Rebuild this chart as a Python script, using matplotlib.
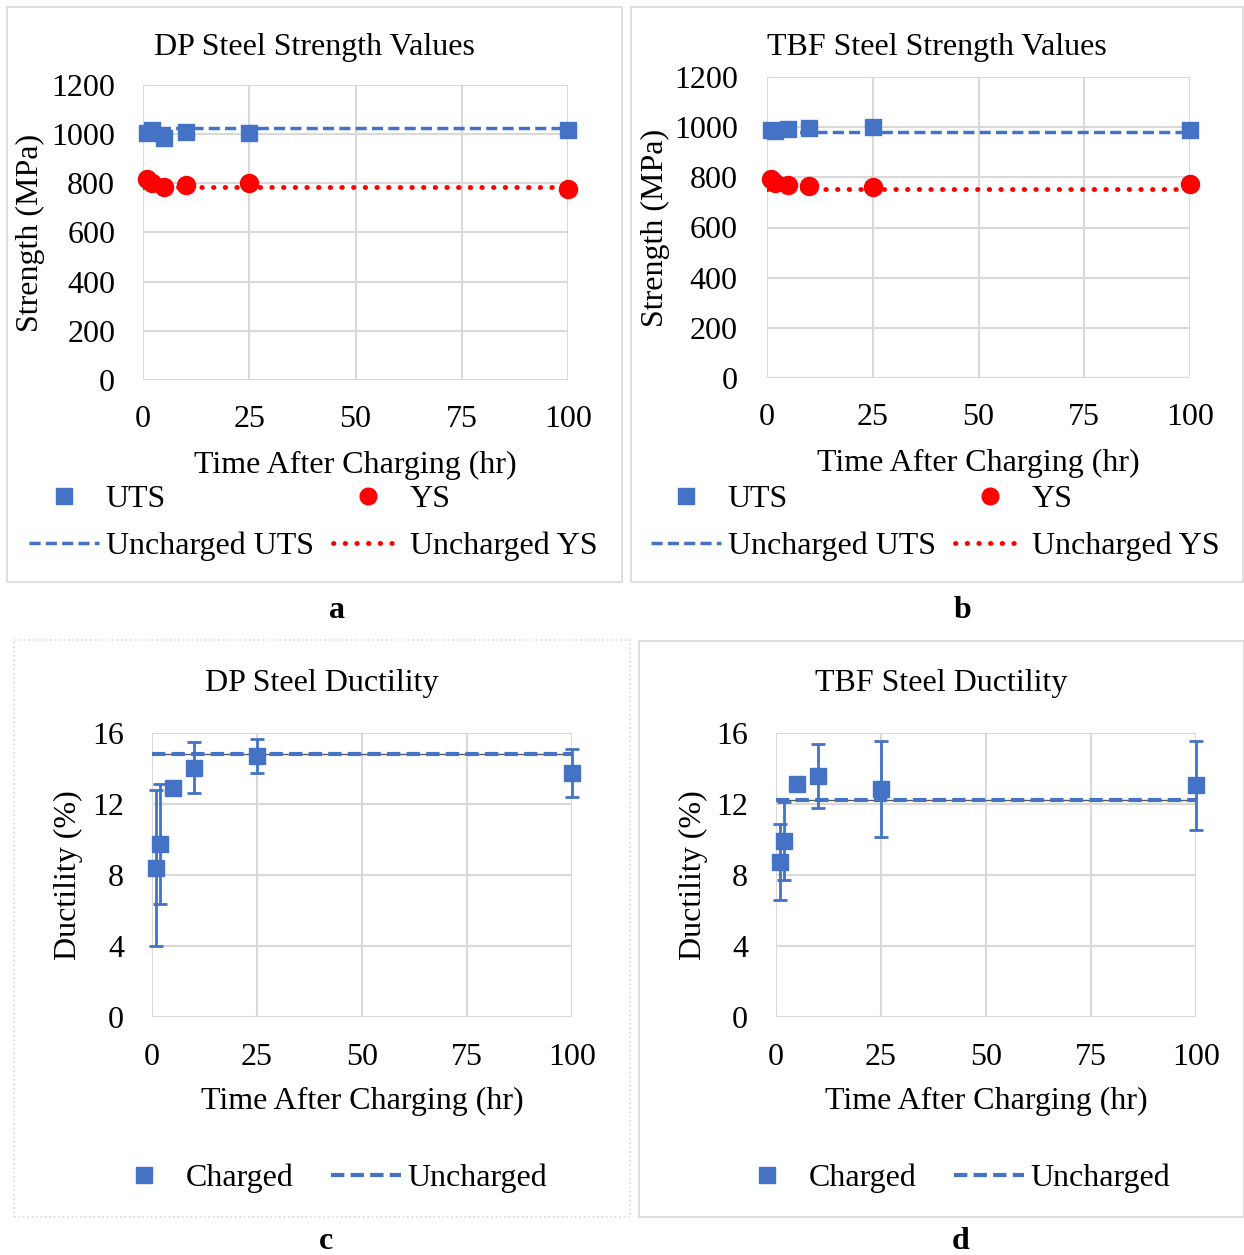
import numpy as np
import matplotlib
matplotlib.use("Agg")
import matplotlib.pyplot as plt
from matplotlib.lines import Line2D
from matplotlib.patches import Rectangle

plt.rcParams['font.family'] = ['Liberation Serif', 'DejaVu Serif']

# data
hours = [1, 2, 5, 10, 25, 100]
line_x = [0, 100]

dp_uts = [1005, 1015, 985, 1010, 1005, 1015]
dp_ys = [818, 803, 784, 793, 803, 776]
dp_uts_unch = 1025
dp_ys_unch = 787

tbf_uts = [990, 983, 992, 996, 999, 990]
tbf_ys = [793, 777, 770, 766, 763, 774]
tbf_uts_unch = 980
tbf_ys_unch = 754

dp_duct = [8.4, 9.75, 12.9, 14.05, 14.7, 13.75]
dp_duct_err = [4.4, 3.4, 0.15, 1.45, 0.95, 1.37]
dp_duct_unch = 14.8

tbf_duct = [8.75, 9.9, 13.1, 13.6, 12.85, 13.05]
tbf_duct_err = [2.15, 2.2, 0.15, 1.8, 2.7, 2.5]
tbf_duct_unch = 12.2

x_ticks = [0, 25, 50, 75, 100]
strength_ticks = [0, 200, 400, 600, 800, 1000, 1200]
duct_ticks = [0, 4, 8, 12, 16]

BLUE = '#4472C4'
RED = '#FF0000'
GRID = '#d9d9d9'
FS = 23
DASH = (0, (3.2, 1.5))
DOT = (0, (0.1, 2.3))

W, H = 1244, 1255
fig = plt.figure(figsize=(W / 100, H / 100), dpi=100)


def px_axes(x0, y0, x1, y1):
    return fig.add_axes([x0 / W, 1 - y1 / H, (x1 - x0) / W, (y1 - y0) / H])


def panel_box(x0, y0, x1, y1, ls='-'):
    fig.add_artist(Rectangle((x0 / W, 1 - y1 / H), (x1 - x0) / W, (y1 - y0) / H,
                             transform=fig.transFigure, fill=False,
                             edgecolor=GRID, lw=1.2, ls=ls))


def style_axes(ax, yticks, ypad, xpad):
    ax.set_xlim(0, 100)
    ax.set_ylim(yticks[0], yticks[-1])
    ax.set_xticks(x_ticks)
    ax.set_yticks(yticks)
    ax.grid(True, color=GRID, lw=1.5)
    ax.set_axisbelow(True)
    for s in ax.spines.values():
        s.set_visible(False)
    ax.tick_params(length=0, labelsize=FS)
    ax.tick_params(axis='y', pad=ypad)
    ax.tick_params(axis='x', pad=xpad)


def labels(ax, box, title, xlab, ylab, title_y, xlab_y, ylab_x):
    # positions given in figure pixels
    x0, y0, x1, y1 = box
    fig.text((x0 + x1) / 2 / W, 1 - title_y / H, title, ha='center', va='center', fontsize=FS)
    ax.set_xlabel(xlab, fontsize=FS, va='center')
    ax.set_ylabel(ylab, fontsize=FS, va='center')
    bb = ax.get_position()
    ax_top = (1 - bb.y1) * H
    ax_h = bb.height * H
    ax_left = bb.x0 * W
    ax_w = bb.width * W
    ax.xaxis.set_label_coords(0.5, (ax_top + ax_h - xlab_y) / ax_h)
    ax.yaxis.set_label_coords((ylab_x - ax_left) / ax_w, 0.5)


# ---- a: DP strength
box_a = (7, 7, 622, 582)
panel_box(*box_a)
ax = px_axes(143, 85, 568, 380)
style_axes(ax, strength_ticks, 20, 18)
ax.plot(line_x, [dp_uts_unch] * 2, color=BLUE, lw=2.5, ls=DASH)
ax.plot(line_x, [dp_ys_unch] * 2, color=RED, lw=3.5, ls=DOT, dash_capstyle='round')
ax.plot(hours, dp_uts, ls='none', marker='s', ms=12, color=BLUE, clip_on=False)
ax.plot(hours, dp_ys, ls='none', marker='o', ms=13, color=RED, clip_on=False)
labels(ax, box_a, 'DP Steel Strength Values', 'Time After Charging (hr)', 'Strength (MPa)', 48, 465, 30)

# ---- b: TBF strength
box_b = (631, 7, 1243, 582)
panel_box(*box_b)
ax = px_axes(767, 77, 1190, 378)
style_axes(ax, strength_ticks, 21, 18)
ax.plot(line_x, [tbf_uts_unch] * 2, color=BLUE, lw=2.5, ls=DASH)
ax.plot(line_x, [tbf_ys_unch] * 2, color=RED, lw=3.5, ls=DOT, dash_capstyle='round')
ax.plot(hours, tbf_uts, ls='none', marker='s', ms=12, color=BLUE, clip_on=False)
ax.plot(hours, tbf_ys, ls='none', marker='o', ms=13, color=RED, clip_on=False)
labels(ax, box_b, 'TBF Steel Strength Values', 'Time After Charging (hr)', 'Strength (MPa)', 48, 463, 655)

strength_handles = [
    Line2D([], [], ls='none', marker='s', ms=11, color=BLUE),
    Line2D([], [], color=BLUE, lw=2.5, ls=DASH),
    Line2D([], [], ls='none', marker='o', ms=12, color=RED),
    Line2D([], [], color=RED, lw=3.5, ls=DOT, dash_capstyle='round'),
]
strength_labels = ['UTS', 'Uncharged UTS', 'YS', 'Uncharged YS']
for cx in (313, 935):
    fig.legend(strength_handles, strength_labels, ncol=2, loc='center',
               bbox_to_anchor=(cx / W, 1 - 523 / H), frameon=False, fontsize=FS,
               handlelength=2.19, handletextpad=0.22, columnspacing=0.6,
               labelspacing=0.55, borderpad=0)

# ---- c: DP ductility
box_c = (14, 640, 630, 1217)
panel_box(*box_c, ls=':')
ax = px_axes(152, 733, 572, 1017)
style_axes(ax, duct_ticks, 20, 19)
ax.plot(line_x, [dp_duct_unch] * 2, color='#595959', lw=1.0)
ax.plot(line_x, [dp_duct_unch] * 2, color=BLUE, lw=3.0, ls=DASH)
ax.errorbar(hours, dp_duct, yerr=dp_duct_err, ls='none', marker='s', ms=11,
            color=BLUE, ecolor=BLUE, elinewidth=2, capsize=5, capthick=2, clip_on=False)
labels(ax, box_c, 'DP Steel Ductility', 'Time After Charging (hr)', 'Ductility (%)', 683, 1101, 68)

# ---- d: TBF ductility
box_d = (639, 641, 1244, 1217)
panel_box(*box_d)
ax = px_axes(776, 733, 1196, 1017)
style_axes(ax, duct_ticks, 20, 19)
ax.plot(line_x, [tbf_duct_unch] * 2, color='#595959', lw=1.0)
ax.plot(line_x, [tbf_duct_unch] * 2, color=BLUE, lw=3.0, ls=DASH)
ax.errorbar(hours, tbf_duct, yerr=tbf_duct_err, ls='none', marker='s', ms=11,
            color=BLUE, ecolor=BLUE, elinewidth=2, capsize=5, capthick=2, clip_on=False)
labels(ax, box_d, 'TBF Steel Ductility', 'Time After Charging (hr)', 'Ductility (%)', 683, 1101, 693)

duct_handles = [
    Line2D([], [], ls='none', marker='s', ms=11, color=BLUE),
    Line2D([], [], color=BLUE, lw=3.0, ls=DASH),
]
for cx in (328, 951):
    fig.legend(duct_handles, ['Charged', 'Uncharged'], ncol=2, loc='center',
               bbox_to_anchor=(cx / W, 1 - 1178 / H), frameon=False, fontsize=FS,
               handlelength=2.19, handletextpad=0.22, columnspacing=1.16, borderpad=0)

# panel letters (baseline placed)
for txt, x, y in (('a', 337, 618), ('b', 963, 618), ('c', 326, 1249), ('d', 961, 1249)):
    fig.text(x / W, 1 - y / H, txt, ha='center', va='baseline', fontsize=FS, fontweight='bold')

fig.savefig('out.png', dpi=100)
